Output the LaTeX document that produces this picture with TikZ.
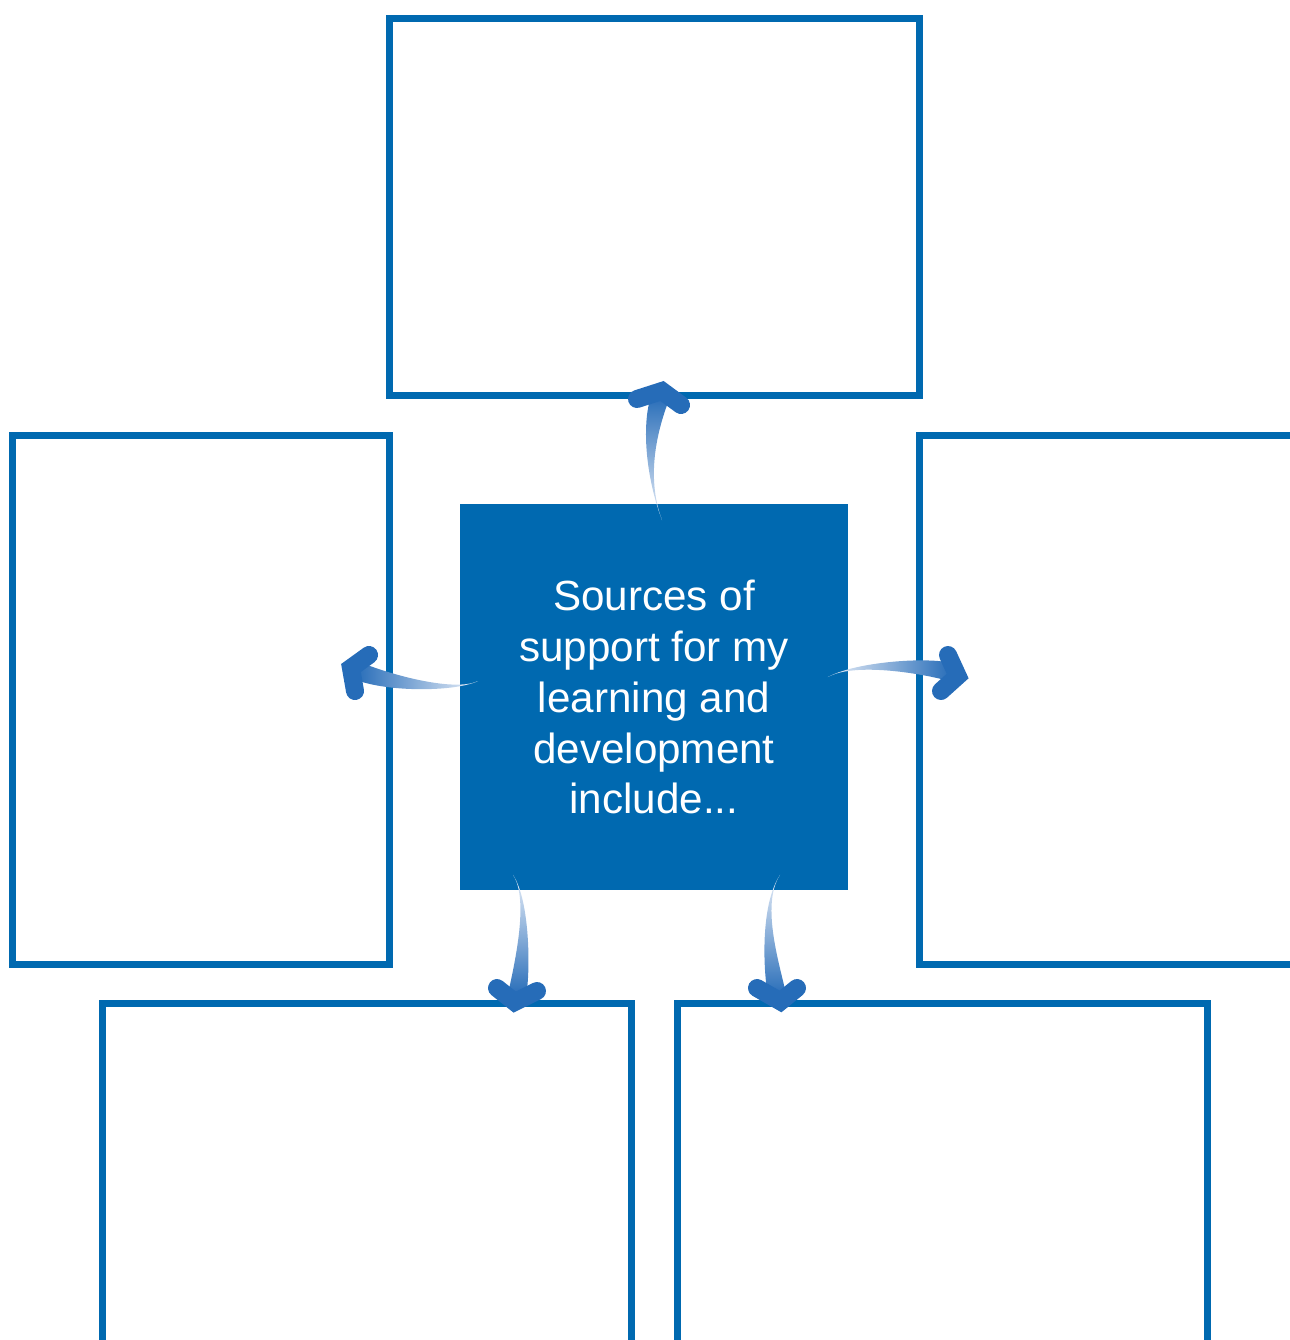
\documentclass[tikz,border=0pt]{standalone}
\usepackage{fontspec}
\setmainfont{Liberation Sans}
\usetikzlibrary{calc}

\definecolor{boxblue}{RGB}{0,105,176}
\definecolor{arrowblue}{RGB}{38,108,184}
\definecolor{arrowpale}{RGB}{232,238,248}

% tail, ctrl 1, ctrl 2, end of body, arm, tip, arm, shading angle
\newcommand\supportarrow[8]{%
    \coordinate (a-tail) at (#1);
    \coordinate (a-c1) at (#2);
    \coordinate (a-c2) at (#3);
    \coordinate (a-end) at (#4);
    \coordinate (a-e1) at ($(a-end)!0.18cm!90:(a-c2)$);
    \coordinate (a-e2) at ($(a-end)!0.18cm!-90:(a-c2)$);
    \path[arrowbody, shading angle=#8] (a-tail) .. controls (a-c1) and ($(a-c2)+(a-e1)-(a-end)$) .. (a-e1)
        -- (a-e2) .. controls ($(a-c2)+(a-e2)-(a-end)$) and (a-c1) .. (a-tail) -- cycle;
    \draw[arrowtip] (#5) -- (#6) -- (#7);
}

\begin{document}
\begin{tikzpicture}[x=0.02cm, y=-0.02cm]
    \tikzstyle{sheet}=[rectangle,draw=boxblue,line width=0.14cm,outer sep=0pt,inner sep=0pt]
    \tikzstyle{hub}=[rectangle,fill=boxblue,text=white,align=center,minimum width=7.76cm,minimum height=7.72cm,
        inner sep=0pt,outer sep=0pt,font=\fontsize{24}{29}\selectfont]
    \tikzstyle{arrowbody}=[top color=arrowblue,bottom color=arrowpale]
    \tikzstyle{arrowtip}=[draw=arrowblue,line width=0.36cm,line cap=round,line join=miter,miter limit=10]

    \useasboundingbox (0,0) rectangle (1290,1340);
    \clip (0,0) rectangle (1290,1340);

    \foreach \name/\x/\y/\w/\h in {boxtop/654.5/207/10.62cm/7.56cm, boxleft/201/700/7.56cm/10.6cm,
            boxright/1184.5/700/10.62cm/10.6cm, boxbl/367/1192/10.6cm/7.56cm, boxbr/942.5/1192/10.62cm/7.56cm}
        \node[sheet, minimum width=\w, minimum height=\h] (\name) at (\x,\y) {};

    \node[hub] (hub) at (654,697) {Sources of\\support for my\\learning and\\development\\include...};

    \supportarrow{$(hub.north)+(8,16)$}{645,475}{650,425}{660,398}{637,399}{$(boxtop.south)+(7.5,-5)$}{681,405}{0}
    \supportarrow{$(hub.west)+(18,-16)$}{455,692}{390,684}{358,671}{369,655}{$(boxleft.east)+(-39,-32)$}{355,691}{90}
    \supportarrow{$(hub.east)+(-20,-20)$}{855,662}{925,665}{950,672}{948,655}{$(boxright.west)+(38.6,-24)$}{941,691}{270}
    \supportarrow{$(hub.south)+(-141,-15)$}{530,900}{522,971}{517,995}{497,988}{$(boxbl.north)+(147.7,-1)$}{537,991}{180}
    \supportarrow{$(hub.south)+(126,-15)$}{760,905}{772,970}{777,995}{757,988}{$(boxbr.north)+(-162,-1.6)$}{797,988}{180}
\end{tikzpicture}
\end{document}
